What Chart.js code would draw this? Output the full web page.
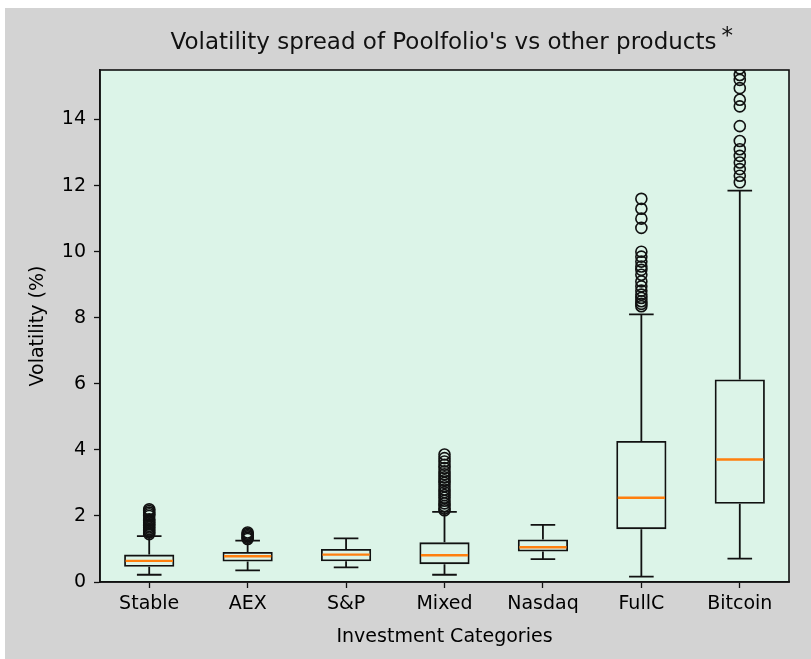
<!DOCTYPE html>
<html>
<head>
<meta charset="utf-8">
<title>Volatility spread</title>
<script src="https://cdn.jsdelivr.net/npm/chart.js@4.4.0/dist/chart.umd.min.js"></script>
<style>
  html, body { margin: 0; background: #fff; }
  #wrap { position: absolute; left: 5px; top: 8px; width: 806px; height: 651px; background: #d3d3d3; }
</style>
</head>
<body>
<div id="wrap"><canvas id="chart"></canvas></div>
<script>
// values
const categories = ['Stable', 'AEX', 'S&P', 'Mixed', 'Nasdaq', 'FullC', 'Bitcoin'];
const whiskerLow = [0.22, 0.35, 0.44, 0.22, 0.69, 0.16, 0.71];
const q1 = [0.46, 0.62, 0.63, 0.54, 0.92, 1.60, 2.37];
const medians = [0.64, 0.78, 0.83, 0.81, 1.05, 2.55, 3.71];
const q3 = [0.83, 0.91, 1.00, 1.20, 1.29, 4.27, 6.13];
const whiskerHigh = [1.39, 1.25, 1.32, 2.12, 1.73, 8.10, 11.85];
const outliers = [
    [1.45, 1.5, 1.55, 1.6, 1.65, 1.7, 1.75, 1.8, 1.85, 1.9, 2.0, 2.05, 2.1, 2.15, 2.2],
    [1.3, 1.34, 1.38, 1.42, 1.46, 1.5],
    [],
    [2.17, 2.22, 2.3, 2.38, 2.46, 2.55, 2.63, 2.72, 2.8, 2.9, 3.0, 3.08, 3.17, 3.26, 3.35, 3.45, 3.55, 3.65, 3.75, 3.86],
    [],
    [8.35, 8.42, 8.5, 8.6, 8.7, 8.82, 8.95, 9.1, 9.3, 9.45, 9.55, 9.7, 9.85, 10.0, 10.72, 11.0, 11.3, 11.6],
    [12.1, 12.3, 12.5, 12.7, 12.9, 13.1, 13.35, 13.8, 14.4, 14.6, 14.95, 15.2, 15.35, 15.55]
];
const yTicks = [0, 2, 4, 6, 8, 10, 12, 14];

const chartTitle = "Volatility spread of Poolfolio's vs other products";

Chart.defaults.font.family = '"DejaVu Sans", sans-serif';
Chart.defaults.color = '#000';

// plot background, spines and title
const framePlugin = {
    id: 'frame',
    beforeDraw(chart) {
        const { ctx, chartArea: a } = chart;
        ctx.save();
        ctx.fillStyle = '#dcf4e8';
        ctx.fillRect(a.left, a.top, a.right - a.left, a.bottom - a.top);
        ctx.restore();
    },
    afterDraw(chart) {
        const { ctx, chartArea: a } = chart;
        ctx.save();
        ctx.strokeStyle = '#111';
        ctx.lineWidth = 1.6;
        ctx.strokeRect(a.left, a.top, a.right - a.left, a.bottom - a.top);

        const cx = (a.left + a.right) / 2 - 1;
        ctx.fillStyle = '#111';
        ctx.font = '23px "DejaVu Sans"';
        ctx.textAlign = 'center';
        ctx.textBaseline = 'alphabetic';
        ctx.fillText(chartTitle, cx, 41);
        const w = ctx.measureText(chartTitle).width;
        ctx.textAlign = 'left';
        ctx.fillText('*', cx + w / 2 + 5, 35);
        ctx.restore();
    }
};

// whiskers, caps and medians, drawn right after the boxes
const whiskerPlugin = {
    id: 'whiskers',
    afterDatasetDraw(chart, args) {
        if (args.index !== 0) return;
        const { ctx, scales: { x, y } } = chart;
        ctx.save();
        ctx.beginPath();
        ctx.rect(chart.chartArea.left, chart.chartArea.top,
            chart.chartArea.right - chart.chartArea.left, chart.chartArea.bottom - chart.chartArea.top);
        ctx.clip();
        categories.forEach((c, i) => {
            const pos = i + 1;
            const px = x.getPixelForValue(pos);
            const capL = x.getPixelForValue(pos - 0.125);
            const capR = x.getPixelForValue(pos + 0.125);
            ctx.strokeStyle = '#111';
            ctx.lineWidth = 1.8;
            ctx.beginPath();
            ctx.moveTo(px, y.getPixelForValue(q1[i]));
            ctx.lineTo(px, y.getPixelForValue(whiskerLow[i]));
            ctx.moveTo(px, y.getPixelForValue(q3[i]));
            ctx.lineTo(px, y.getPixelForValue(whiskerHigh[i]));
            ctx.moveTo(capL, y.getPixelForValue(whiskerLow[i]));
            ctx.lineTo(capR, y.getPixelForValue(whiskerLow[i]));
            ctx.moveTo(capL, y.getPixelForValue(whiskerHigh[i]));
            ctx.lineTo(capR, y.getPixelForValue(whiskerHigh[i]));
            ctx.stroke();

            ctx.strokeStyle = '#ff7f0e';
            ctx.lineWidth = 2.4;
            ctx.beginPath();
            ctx.moveTo(x.getPixelForValue(pos - 0.25) + 1, y.getPixelForValue(medians[i]));
            ctx.lineTo(x.getPixelForValue(pos + 0.25) - 1, y.getPixelForValue(medians[i]));
            ctx.stroke();
        });
        ctx.restore();
    }
};

const boxData = categories.map((c, i) => ({ x: i + 1, y: [q1[i], q3[i]] }));
const flierData = outliers.flatMap((vals, i) => vals.map(v => ({ x: i + 1, y: v })));

new Chart(document.getElementById('chart'), {
    type: 'bar',
    data: {
        datasets: [{
            label: 'Box',
            data: boxData,
            backgroundColor: 'rgba(0,0,0,0)',
            borderColor: '#111',
            borderWidth: 1.8,
            borderSkipped: false,
            categoryPercentage: 1,
            barPercentage: 0.51
        }, {
            type: 'scatter',
            label: 'Outliers',
            data: flierData,
            pointStyle: 'circle',
            pointRadius: 5.5,
            pointBorderWidth: 1.6,
            pointBorderColor: '#111',
            pointBackgroundColor: 'rgba(0,0,0,0)',
            clip: 0
        }]
    },
    options: {
        responsive: true,
        maintainAspectRatio: false,
        animation: false,
        layout: { padding: { top: 62, right: 22, left: 0, bottom: 0 } },
        plugins: {
            legend: { display: false },
            tooltip: { enabled: false }
        },
        scales: {
            x: {
                type: 'linear',
                min: 0.5,
                max: 7.5,
                offset: false,
                afterFit: scale => { scale.height = 77; },
                afterBuildTicks: scale => { scale.ticks = categories.map((c, i) => ({ value: i + 1 })); },
                ticks: {
                    font: { size: 19 },
                    padding: 5,
                    callback: v => categories[v - 1]
                },
                grid: { offset: false, drawOnChartArea: false, tickLength: 6, color: '#111', tickWidth: 1.3 },
                border: { display: true, color: '#111', width: 1.6 },
                title: {
                    display: true,
                    text: 'Investment Categories',
                    font: { size: 19 },
                    padding: { bottom: 10.6, top: 0 }
                }
            },
            y: {
                min: 0,
                max: 15.5,
                afterFit: scale => { scale.width = 95; },
                afterBuildTicks: scale => { scale.ticks = yTicks.map(v => ({ value: v })); },
                ticks: { font: { size: 19 }, padding: 8 },
                grid: { drawOnChartArea: false, tickLength: 6, color: '#111', tickWidth: 1.3 },
                border: { display: true, color: '#111', width: 1.6 },
                title: {
                    display: true,
                    text: 'Volatility (%)',
                    font: { size: 19 },
                    padding: { top: 21.6, bottom: 0 }
                }
            }
        }
    },
    plugins: [framePlugin, whiskerPlugin]
});
</script>
</body>
</html>
